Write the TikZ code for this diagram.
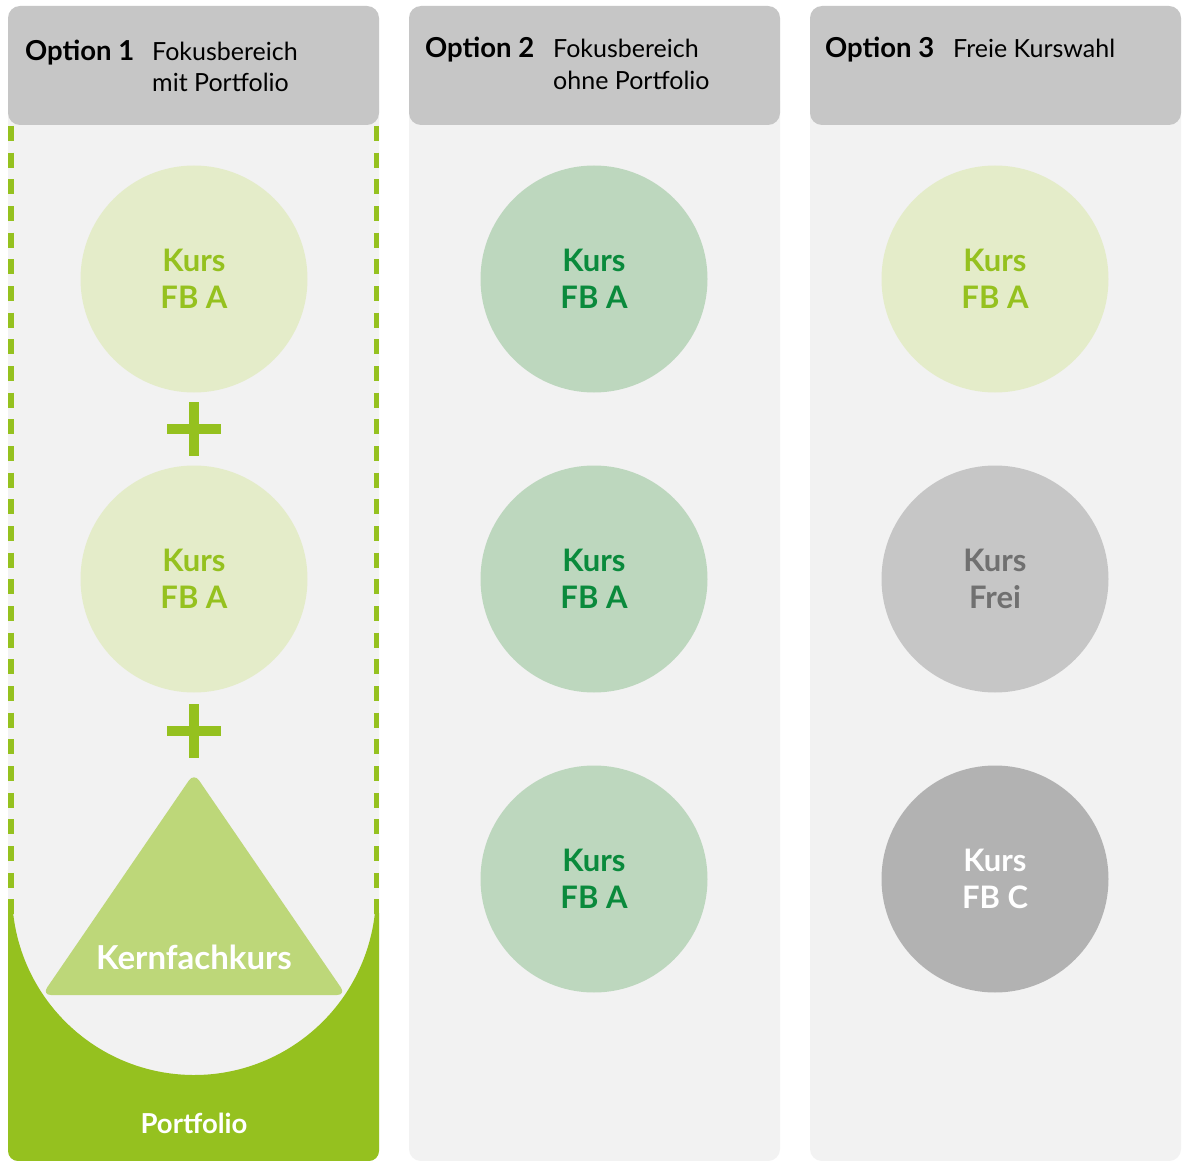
\documentclass[tikz,border=0pt]{standalone}
\usepackage{fontspec}
\setmainfont{Lato}
\definecolor{hdgray}{HTML}{C6C6C6}
\definecolor{bodygray}{HTML}{F2F2F2}
\definecolor{lgreen}{HTML}{E4ECC9}
\definecolor{pgreen}{HTML}{95C11F}
\definecolor{mgreen}{HTML}{BDD7BE}
\definecolor{dgreen}{HTML}{0A8A3C}
\definecolor{midgray}{HTML}{C6C6C6}
\definecolor{txtgray}{HTML}{707070}
\definecolor{dgray}{HTML}{B2B2B2}
\definecolor{trigreen}{HTML}{BDD779}
\begin{document}
\begin{tikzpicture}[x=1pt,y=-1pt,
  colbody/.style={fill=bodygray, rounded corners=12pt},
  colhead/.style={fill=hdgray, rounded corners=12pt},
  hdbold/.style={font=\bfseries\fontsize{27.5}{31}\selectfont, anchor=base west, inner sep=0pt},
  hdreg/.style={font=\fontsize{25}{31}\selectfont, anchor=base west, inner sep=0pt},
  kurs/.style={circle, minimum size=227pt, inner sep=0pt, align=center,
    font=\bfseries\fontsize{31}{37}\selectfont},
  kursA/.style={kurs, fill=lgreen, text=pgreen},
  kursB/.style={kurs, fill=mgreen, text=dgreen},
  kursF/.style={kurs, fill=midgray, text=txtgray},
  kursC/.style={kurs, fill=dgray, text=white},
  plusbar/.style={draw=pgreen, line width=9.5pt},
  dashline/.style={draw=pgreen, line width=5.5pt, dash pattern=on 15pt off 11.67pt}
]
\useasboundingbox (0,0) rectangle (1187,1161);
\fill[white] (0,0) rectangle (1187,1161);

% column bodies and headers
\foreach \x in {8,409,810}{
  \fill[colbody] (\x,90) rectangle (\x+371,1161);
  \fill[colhead] (\x,6) rectangle (\x+371,125);
}

% header texts
\node[hdbold] (h1) at (25,61) {Option 1};
\node[hdreg] (h1a) at (152,61) {Fokusbereich};
\node[hdreg] (h1b) at (152,92) {mit Portfolio};
\node[hdbold] (h2) at (425,58) {Option 2};
\node[hdreg] (h2a) at (553,58) {Fokusbereich};
\node[hdreg] (h2b) at (553,90) {ohne Portfolio};
\node[hdbold] (h3) at (825,58) {Option 3};
\node[hdreg] (h3a) at (953,58) {Freie Kurswahl};

% portfolio green area with circular cut-out
\fill[pgreen] (8,913) [rounded corners=10pt] -- (8,1161) -- (379,1161) [sharp corners] -- (379,913)
  -- (374.9,913) arc[start angle=6.31, end angle=173.69, radius=182] -- cycle;

% dashed side lines
\draw[dashline] (11,126) -- (11,914);
\draw[dashline] (376.5,126) -- (376.5,914);

% column 1
\node[kursA] (c11) at (194,279) {Kurs\\FB A};
\node[kursA] (c12) at (194,579) {Kurs\\FB A};
\draw[plusbar] (167,429) -- (221,429) (194,402) -- (194,456);
\draw[plusbar] (167,731) -- (221,731) (194,704) -- (194,758);
\fill[trigreen, rounded corners=9pt] (194,773) -- (346,995) -- (42,995) -- cycle;
\node[font=\bfseries\fontsize{33}{38}\selectfont, text=white, inner sep=0pt] (kern) at (194,957) {Kernfachkurs};
\node[font=\bfseries\fontsize{27.5}{32}\selectfont, text=white, inner sep=0pt] (port) at (194,1123) {Portfolio};

% column 2
\node[kursB] (c21) at (594,279) {Kurs\\FB A};
\node[kursB] (c22) at (594,579) {Kurs\\FB A};
\node[kursB] (c23) at (594,879) {Kurs\\FB A};

% column 3
\node[kursA] (c31) at (995,279) {Kurs\\FB A};
\node[kursF] (c32) at (995,579) {Kurs\\Frei};
\node[kursC] (c33) at (995,879) {Kurs\\FB C};
\end{tikzpicture}
\end{document}
